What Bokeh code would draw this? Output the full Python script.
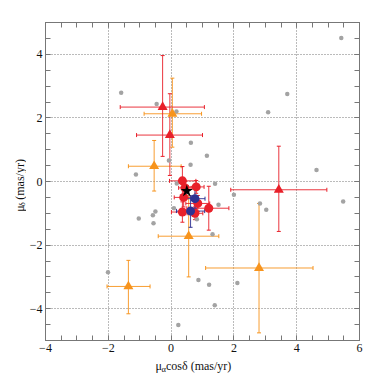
import math
from bokeh.plotting import figure
from bokeh.models import (ColumnDataSource, Whisker, TeeHead, LinearAxis,
                          SingleIntervalTicker, CustomJSTickFormatter, Range1d)
from bokeh.layouts import row, column
from bokeh.core.properties import value
from bokeh.embed import file_html
from bokeh.resources import INLINE

# ---------------- data ----------------
gray_x = [5.42, -1.59, -0.46, 0.17, 3.70, 3.09, 0.63, 1.14, 0.62, -0.07, -1.12, 4.63,
          1.40, 0.18, 2.00, 5.48, 2.83, 1.51, 3.03, 0.09, -0.50, -0.58, -1.03, -0.56,
          0.82, 1.32, 0.87, 1.21, 2.11, -2.01, 1.39, 0.23]
gray_y = [4.51, 2.79, 2.44, 2.20, 2.75, 2.18, 1.22, 0.81, 0.53, 0.66, 0.22, 0.36,
          -0.07, -0.06, -0.42, -0.63, -0.69, -0.73, -0.89, -0.84, -0.94, -1.06, -1.16, -1.31,
          -1.19, -1.66, -3.10, -3.25, -3.19, -2.85, -3.89, -4.51]

# red triangles
rt_x = [-0.27, -0.04, 3.43]
rt_y = [2.34, 1.46, -0.26]
rt_xlo = [-1.62, -1.10, 1.90]
rt_xhi = [1.06, 1.00, 4.96]
rt_ylo = [0.79, 0.19, -1.57]
rt_yhi = [3.96, 2.76, 1.11]

# orange triangles
ot_x = [0.04, -0.54, 0.56, 2.80, -1.36]
ot_y = [2.13, 0.48, -1.72, -2.72, -3.30]
ot_xlo = [-0.86, -1.36, -0.41, 1.10, -2.04]
ot_xhi = [0.97, 0.32, 1.52, 4.52, -0.67]
ot_ylo = [1.08, -0.30, -3.00, -4.76, -4.16]
ot_yhi = [3.25, 1.29, -0.44, -0.69, -2.48]

# red circles
rc_x = [0.36, 0.80, 0.44, 0.40, 0.85, 1.20, 0.36, 0.76]
rc_y = [0.02, -0.17, -0.20, -0.50, -0.69, -0.84, -0.96, -1.00]
rc_xlo = [-0.05, 0.55, 0.24, 0.10, 0.47, 0.50, 0.01, 0.51]
rc_xhi = [0.79, 1.05, 0.64, 0.70, 1.23, 1.84, 0.71, 1.01]
rc_ylo = [-0.43, -0.37, -0.40, -0.80, -0.94, -1.53, -1.28, -1.20]
rc_yhi = [0.47, 0.03, 0.00, -0.20, -0.44, -0.15, -0.64, -0.80]

# blue circles
bc_x = [0.76, 0.62]
bc_y = [-0.54, -0.93]
bc_xlo = [0.46, 0.17]
bc_xhi = [1.08, 1.07]
bc_ylo = [-0.84, -1.44]
bc_yhi = [-0.24, -0.45]

# star
st_x = [0.50]
st_y = [-0.30]

# axis titles, split into pieces (main symbol, subscript, rest)
x_title = ["\u03bc", "\u03b1", "cos\u03b4 (mas/yr)"]
y_title = ["\u03bc", "\u03b4", "(mas/yr)"]

RED = "#e8202a"
ORANGE = "#f7941d"
BLUE = "#2e3192"
GRAY = "#a3a3a3"
AXC = "#777777"
FONT = "Liberation Serif"

YW = 26      # width of the strip holding the y title
XH = 16      # height of the strip holding the x title
PW, PH = 348, 358

p = figure(width=PW, height=PH, output_backend="svg", toolbar_location=None,
           x_range=Range1d(-4, 6), y_range=Range1d(-5, 5),
           min_border_left=16, min_border_right=15, min_border_top=22, min_border_bottom=18)
p.background_fill_color = "white"
p.border_fill_color = "white"
p.outline_line_color = AXC

ticker = SingleIntervalTicker(interval=2, num_minor_ticks=4)
fmt = CustomJSTickFormatter(code="return tick < 0 ? '\\u2212' + (-tick) : '' + tick;")

for ax in [p.xaxis[0], p.yaxis[0]]:
    ax.ticker = ticker
    ax.formatter = fmt
    ax.major_tick_in = 5
    ax.major_tick_out = 0
    ax.minor_tick_in = 5
    ax.minor_tick_out = 0
    ax.axis_line_color = AXC
    ax.major_tick_line_color = AXC
    ax.minor_tick_line_color = AXC
    ax.major_label_text_font = FONT
    ax.major_label_text_font_size = "12px"
    ax.major_label_text_color = "#111111"
p.xaxis[0].major_label_standoff = 3
p.yaxis[0].major_label_standoff = 3

for loc in ["right", "above"]:
    ax = LinearAxis(ticker=ticker, formatter=CustomJSTickFormatter(code="return '';"),
                    major_label_text_color=None, major_label_text_alpha=0,
                    major_tick_in=5, major_tick_out=0, minor_tick_in=5, minor_tick_out=0,
                    axis_line_color=AXC, major_tick_line_color=AXC,
                    minor_tick_line_color=AXC, major_label_standoff=0)
    p.add_layout(ax, loc)

for g in [p.xgrid[0], p.ygrid[0]]:
    g.ticker = ticker
    g.grid_line_color = AXC
    g.grid_line_dash = "1 2"
    g.grid_line_width = 1

# gray background points
p.scatter(gray_x, gray_y, size=4.5, color=GRAY, line_color=None)

def add_err(xs, ys, xlo, xhi, ylo, yhi, color):
    src = ColumnDataSource(dict(x=xs, y=ys, xlo=xlo, xhi=xhi, ylo=ylo, yhi=yhi))
    for base, lo, hi, dim in [("y", "xlo", "xhi", "width"), ("x", "ylo", "yhi", "height")]:
        w = Whisker(source=src, base=base, lower=lo, upper=hi, dimension=dim,
                    line_color=color, line_width=1, line_alpha=0.9,
                    lower_head=TeeHead(size=4, line_color=color, line_width=1),
                    upper_head=TeeHead(size=4, line_color=color, line_width=1))
        p.add_layout(w)

add_err(ot_x, ot_y, ot_xlo, ot_xhi, ot_ylo, ot_yhi, ORANGE)
add_err(rt_x, rt_y, rt_xlo, rt_xhi, rt_ylo, rt_yhi, RED)
add_err(rc_x, rc_y, rc_xlo, rc_xhi, rc_ylo, rc_yhi, RED)
add_err(bc_x, bc_y, bc_xlo, bc_xhi, bc_ylo, bc_yhi, BLUE)

p.scatter(ot_x, ot_y, marker="triangle", size=10, color=ORANGE, line_color=None)
p.scatter(rt_x, rt_y, marker="triangle", size=10, color=RED, line_color=None)
p.scatter(rc_x, rc_y, marker="circle", size=9, color=RED, line_color=None)
p.scatter(bc_x, bc_y, marker="circle", size=9, color=BLUE, line_color=None)
p.scatter(st_x, st_y, marker="star", size=13, color="black", line_color=None)

def strip(w, h):
    f = figure(width=w, height=h, output_backend="svg", toolbar_location=None,
               x_range=Range1d(0, w), y_range=Range1d(0, h),
               x_axis_type=None, y_axis_type=None,
               min_border=0, min_border_left=0, min_border_right=0,
               min_border_top=0, min_border_bottom=0)
    f.title.visible = False
    f.outline_line_color = None
    f.grid.visible = False
    f.background_fill_color = "white"
    f.border_fill_color = "white"
    return f

tstyle = dict(text_font=value(FONT), text_color="#111111",
              text_baseline="alphabetic", text_align="left")

# x title strip (coordinates in pixels inside the strip, y up)
xf = strip(PW + YW, XH)
xf.text(x=[155], y=[8.5], text=[x_title[0]], text_font_size="12px", **tstyle)
xf.text(x=[161], y=[6], text=[x_title[1]], text_font_size="8.5px", **tstyle)
xf.text(x=[165.5], y=[8.5], text=[x_title[2]], text_font_size="12px", **tstyle)

# y title strip (rotated text, coordinates in pixels inside the strip, y up)
yf = strip(YW, PH)
ang = math.pi / 2
yf.text(x=[19], y=[145], angle=ang, text=[y_title[0]], text_font_size="12px", **tstyle)
yf.text(x=[21.5], y=[151], angle=ang, text=[y_title[1]], text_font_size="8.5px", **tstyle)
yf.text(x=[19], y=[158.5], angle=ang, text=[y_title[2]], text_font_size="12px", **tstyle)

layout = column(row(yf, p), xf)
open("out.html", "w").write(file_html(layout, INLINE))
